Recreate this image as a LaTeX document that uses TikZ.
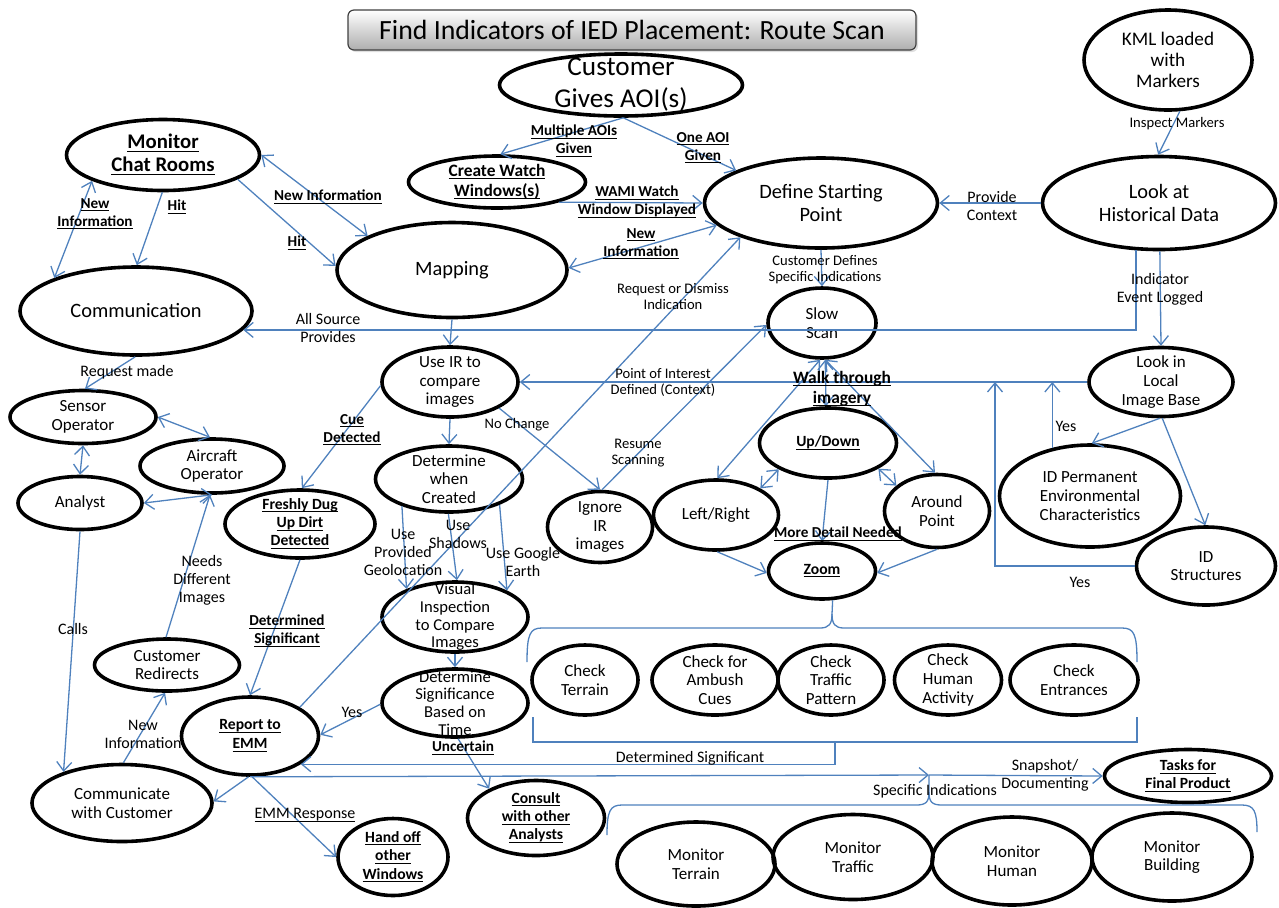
\documentclass[tikz,border=0pt]{standalone}
\usepackage{fontspec}
\setmainfont{Carlito}
\usepackage{amsmath}
\usetikzlibrary{shapes.geometric,arrows.meta,shadows}
\definecolor{connc}{RGB}{79,129,189}
\newcommand\ul[1]{\underline{\smash[b]{#1}}}
\newcommand\FtTitle{\fontsize{13.9}{16}\selectfont}
\newcommand\FtCust{\fontsize{13.6}{16}\selectfont}
\newcommand\FtBig{\fontsize{10.2}{11.5}\selectfont}
\newcommand\FtChat{\fontsize{10.4}{11.5}\selectfont\bfseries}
\newcommand\FtKml{\fontsize{9.6}{10.6}\selectfont}
\newcommand\FtN{\fontsize{8.5}{9.3}\selectfont}
\newcommand\FtSig{\fontsize{8.3}{8.85}\selectfont}
\newcommand\FtS{\fontsize{7.3}{8}\selectfont}
\newcommand\FtL{\fontsize{8}{9}\selectfont}
\newcommand\FtBL{\fontsize{7.6}{9}\selectfont\bfseries}
\newcommand\FtBN{\fontsize{7.8}{9.2}\selectfont\bfseries}
\newcommand\FtW{\fontsize{8.7}{10}\selectfont\bfseries}
\begin{document}
\begin{tikzpicture}[x=0.5pt,y=-0.5pt,
  el/.style={ellipse,draw=black,line width=1.8pt,inner sep=0pt},
  sz/.style 2 args={minimum width=#1*0.5pt,minimum height=#2*0.5pt},
  tx/.style 2 args={label={[align=center,font=#1,inner sep=0pt,text=black]center:{#2}}},
  lb/.style={align=center,inner sep=0pt,text=black},
  conn/.style={draw=connc,line width=0.65pt},
  >={Straight Barb[length=4.5pt,width=7.5pt]},
]
\useasboundingbox (0,0) rectangle (1279,907);

% title
\node[draw=black!75,line width=0.6pt,rounded corners=3pt,top color=white,bottom color=black!32,
  minimum width=284pt,minimum height=20pt,inner sep=0pt,font=\FtTitle,
  drop shadow={opacity=0.25,shadow xshift=1pt,shadow yshift=-1pt}] (title) at (632,30)
  {Find Indicators of IED Placement: Route Scan};

% nodes
\node[el,sz={243}{62},tx={\FtCust}{Customer\\Gives AOI(s)}] (cust) at (621,85) {};
\node[el,sz={168}{100},tx={\FtKml}{KML loaded\\with\\Markers}] (kml) at (1168,60) {};
\node[el,sz={193}{71},tx={\FtChat}{\ul{Monitor}\\\ul{Chat Rooms}}] (chat) at (163,155) {};
\node[el,sz={177}{52},tx={\FtW}{\ul{Create Watch}\\\ul{Windows(s)}}] (watch) at (497,182) {};
\node[el,sz={233}{90},tx={\FtBig}{Define Starting\\Point}] (define) at (821,203) {};
\node[el,sz={233}{93},tx={\FtBig}{Look at\\Historical Data}] (hist) at (1159,203) {};
\node[el,sz={230}{95},tx={\FtBig}{Mapping}] (mapping) at (452,270) {};
\node[el,sz={232}{88},tx={\FtBig}{Communication}] (comm) at (136,311) {};
\node[el,sz={108}{70},tx={\FtN}{Slow\\Scan}] (slow) at (822,323) {};
\node[el,sz={136}{70},tx={\FtN}{Use IR to\\compare\\images}] (useir) at (450,382) {};
\node[el,sz={144}{69},tx={\FtN}{Look in\\Local\\Image Base}] (local) at (1161,382) {};
\node[el,sz={146}{53},tx={\FtN}{Sensor\\Operator}] (sensor) at (83,417) {};
\node[el,sz={137}{70},tx={\FtBN}{\ul{Up/Down}}] (updown) at (828,443) {};
\node[el,sz={144}{54},tx={\FtN}{Aircraft\\Operator}] (aircraft) at (212,466) {};
\node[el,sz={147}{66},tx={\FtN}{Determine\\when\\Created}] (determine) at (449,479) {};
\node[el,sz={181}{102},tx={\FtN}{ID Permanent\\Environmental\\Characteristics}] (idperm) at (1090,496) {};
\node[el,sz={124}{53},tx={\FtN}{Analyst}] (analyst) at (80,503) {};
\node[el,sz={105}{73},tx={\FtN}{Around\\Point}] (around) at (937,511) {};
\node[el,sz={150}{68},tx={\FtBN}{\ul{Freshly Dug}\\\ul{Up Dirt}\\\ul{Detected}}] (fresh) at (300,524) {};
\node[el,sz={105}{71},tx={\FtN}{Ignore\\IR\\images}] (ignore) at (600,527) {};
\node[el,sz={125}{70},tx={\FtN}{Left/Right}] (leftright) at (716,515) {};
\node[el,sz={139}{78},tx={\FtN}{ID\\Structures}] (idstruct) at (1206,566) {};
\node[el,sz={107}{56},tx={\FtBN}{\ul{Zoom}}] (zoom) at (822,571) {};
\node[el,sz={146}{70},tx={\FtSig}{Visual\\Inspection\\to Compare\\Images}] (visual) at (455,617) {};
\node[el,sz={145}{52},tx={\FtN}{Customer\\Redirects}] (redirect) at (167,665) {};
\node[el,sz={106}{70},tx={\FtN}{Check\\Terrain}] (terrain) at (585,680) {};
\node[el,sz={126}{70},tx={\FtN}{Check for\\Ambush\\Cues}] (ambush) at (715,680) {};
\node[el,sz={106}{70},tx={\FtN}{Check\\Traffic\\Pattern}] (traffic) at (831,680) {};
\node[el,sz={107}{70},tx={\FtN}{Check\\Human\\Activity}] (human) at (948,680) {};
\node[el,sz={128}{70},tx={\FtN}{Check\\Entrances}] (entrances) at (1074,680) {};
\node[el,sz={146}{68},tx={\FtSig}{Determine\\Significance\\Based on\\Time}] (signif) at (455,703) {};
\node[el,sz={137}{78},tx={\FtBN}{\ul{Report to}\\\ul{EMM}}] (report) at (250,736) {};
\node[el,sz={180}{77},tx={\FtN}{Communicate\\with Customer}] (commcust) at (122,803) {};
\node[el,sz={167}{53},tx={\FtBN}{\ul{Tasks for}\\\ul{Final Product}}] (tasks) at (1188,776) {};
\node[el,sz={137}{75},tx={\FtBN}{\ul{Consult}\\\ul{with other}\\\ul{Analysts}}] (consult) at (536,818) {};
\node[el,sz={110}{77},tx={\FtBN}{\ul{Hand off}\\\ul{other}\\\ul{Windows}}] (handoff) at (393,857) {};
\node[el,sz={158}{84},tx={\FtN}{Monitor\\Terrain}] (mterrain) at (696,864) {};
\node[el,sz={160}{85},tx={\FtN}{Monitor\\Traffic}] (mtraffic) at (853,857) {};
\node[el,sz={160}{88},tx={\FtN}{Monitor\\Human}] (mhuman) at (1012,861) {};
\node[el,sz={160}{88},tx={\FtN}{Monitor\\Building}] (mbuilding) at (1172,857) {};

\coordinate (j2) at (995,382);
\coordinate (spec) at (929,775);
\coordinate (bk) at (835,742);

% connectors: top
\draw[conn,->] (cust.-86) -- (watch.83);
\draw[conn,->] (cust.-86) -- (define.159);
\draw[conn,->] (watch.-18) -- (define.180);
\draw[conn,<->] (mapping.1) -- (define.-168);
\draw[conn,->] (report.30) -- (define.-157);
\draw[conn,->] (kml.-77) -- (hist.91);
\draw[conn,->] (hist.180) -- (define.0);
\draw[conn,->] (define.-90) -- (slow.90);
\draw[conn,->] (hist.-116) |- (comm.-10);
\draw[conn,->] (hist.-89) -- (local.90);
\draw[conn,->] (local.180) -- (useir.0);
\draw[conn,->] (idperm.128.5) -- (idperm.128.5 |- local.west);
\draw[conn,->] (idstruct.180) -| (j2);
\draw[conn,->] (local.-92) -- (idperm.88);
\draw[conn,->] (local.-88) -- (idstruct.91);

% chat rooms
\draw[conn,<->] (chat.0) -- (mapping.158);
\draw[conn,->] (chat.-18) -- (mapping.178);
\draw[conn,<->] (chat.-160) -- (comm.158);
\draw[conn,->] (chat.-91) -- (comm.89);

% middle
\draw[conn,->] (mapping.-90) -- (useir.90);
\draw[conn,->] (useir.-90) -- (determine.90);
\draw[conn,->] (useir.-28) -- (ignore.90);
\draw[conn,->] (useir.-177) -- (fresh.87);
\draw[conn,->] (ignore.87) -- (slow.182);

% walk through imagery
\draw[conn,<->] (slow.-93) -- (leftright.88);
\draw[conn,<->] (slow.-85) -- (updown.93);
\draw[conn,<->] (slow.-85) -- (around.93);
\draw[conn,<->] (updown.-152) -- (leftright.31);
\draw[conn,<->] (updown.-27) -- (around.148);
\draw[conn,->] (updown.-90) -- (zoom.90);
\draw[conn,->] (leftright.-88) -- (zoom.-178);
\draw[conn,->] (around.-90) -- (zoom.-2);

% determine / visual
\draw[conn,->] (determine.-150) -- (visual.150);
\draw[conn,->] (determine.-91) -- (visual.87);
\draw[conn,->] (determine.-27) -- (visual.27);
\draw[conn,->] (visual.-90) -- (signif.90);
\draw[conn,->] (signif.181) -- (report.1);
\draw[conn,->] (signif.-85) -- (consult.148);
\draw[conn,->] (fresh.-90) -- (report.90);

% left cluster
\draw[conn,->] (comm.-91) -- (sensor.86);
\draw[conn,<->] (sensor.-90) -- (analyst.90);
\draw[conn,<->] (sensor.0) -- (aircraft.94);
\draw[conn,<->] (analyst.0) -- (aircraft.-90);
\draw[conn,->] (analyst.-90) -- (commcust.152);
\draw[conn,->] (commcust.88) -- (redirect.-94);
\draw[conn,->] (redirect.92) -- (aircraft.-94);
\draw[conn,->] (report.-92) -- (commcust.1);
\draw[conn,->] (report.-87) -- (handoff.180);
\draw[conn,->] (report.-90) -- (spec);
\draw[conn,->] (spec) -- (tasks.180);

% braces and brackets
\draw[conn] (607,835) .. controls (607,811) and (610,805) .. (622,805) -- (916,805)
  .. controls (926,805) and (929,802) .. (929,792) -- (spec);
\draw[conn] (929,792) .. controls (929,802) and (932,805) .. (942,805) -- (1242,805)
  .. controls (1254,805) and (1257,811) .. (1257,832);
\draw[conn] (527,662) .. controls (527,634) and (530,628) .. (542,628) -- (820,628)
  .. controls (829,628) and (832,624) .. (832,614) -- (zoom.-70);
\draw[conn] (832,614) .. controls (832,624) and (835,628) .. (844,628) -- (1122,628)
  .. controls (1134,628) and (1137,634) .. (1137,662);
\draw[conn] (533,717) -- (533,742) -- (1137,742) -- (1137,717);
\draw[conn,->] (bk) |- (report.-29);

% labels
\node[lb,font=\FtBL] (l1) at (574,141) {\ul{Multiple AOIs}\\\ul{Given}};
\node[lb,font=\FtBL] (l2) at (703,148) {\ul{One AOI}\\\ul{Given}};
\node[lb,font=\FtBL] (l3) at (637,202) {\ul{WAMI Watch}\\\ul{Window Displayed}};
\node[lb,font=\FtBL] (l4) at (641,244) {\ul{New}\\\ul{Information}};
\node[lb,font=\FtS] (l5) at (673,297) {Request or Dismiss\\Indication};
\node[lb,font=\FtS] (l6) at (1177,124) {Inspect Markers};
\node[lb,font=\FtL] (l7) at (992,206) {Provide\\Context};
\node[lb,font=\FtS] (l8) at (825,270) {Customer Defines\\Specific Indications};
\node[lb,font=\FtL] (l9) at (328,328) {All Source\\Provides};
\node[lb,font=\FtL] (l10) at (1160,289) {Indicator\\Event Logged};
\node[lb,font=\FtS] (l11) at (663,382) {Point of Interest\\Defined (Context)};
\node[lb,font=\FtL] (l12) at (1066,426) {Yes};
\node[lb,font=\FtL] (l13) at (1080,582) {Yes};
\node[lb,font=\FtBL] (l14) at (328,197) {\ul{New Information}};
\node[lb,font=\FtBL] (l15) at (297,243) {\ul{Hit}};
\node[lb,font=\FtBL] (l16) at (95,214) {\ul{New}\\\ul{Information}};
\node[lb,font=\FtBL] (l17) at (177,207) {\ul{Hit}};
\node[lb,font=\FtS] (l18) at (517,425) {No Change};
\node[lb,font=\FtBL] (l19) at (352,430) {\ul{Cue}\\\ul{Detected}};
\node[lb,font=\FtS] (l20) at (638,453) {Resume\\Scanning};
\node[lb,font=\FtW] (l21) at (842,389) {\ul{Walk through}\\\ul{imagery}};
\node[lb,font=\FtBL] (l22) at (838,534) {\ul{More Detail Needed}};
\node[lb,font=\FtL] (l23) at (403,552) {Use\\Provided\\Geolocation};
\node[lb,font=\FtL] (l24) at (458,534) {Use\\Shadows};
\node[lb,font=\FtL] (l25) at (523,562) {Use Google\\Earth};
\node[lb,font=\FtL] (l26) at (352,712) {Yes};
\node[lb,font=\FtBL] (l27) at (463,748) {\ul{Uncertain}};
\node[lb,font=\FtBL] (l28) at (287,631) {\ul{Determined}\\\ul{Significant}};
\node[lb,font=\FtL] (l29) at (73,629) {Calls};
\node[lb,font=\FtL] (l30) at (143,734) {New\\Information};
\node[lb,font=\FtL] (l31) at (202,580) {Needs\\Different\\Images};
\node[lb,font=\FtL] (l32) at (305,815) {\ul{EMM Response}};
\node[lb,font=\FtL] (l33) at (127,372) {Request made};
\node[lb,font=\FtL] (l34) at (690,758) {Determined Significant};
\node[lb,font=\FtL] (l35) at (935,791) {Specific Indications};
\node[lb,font=\FtL] (l36) at (1045,775) {Snapshot/\\Documenting};
\end{tikzpicture}
\end{document}
